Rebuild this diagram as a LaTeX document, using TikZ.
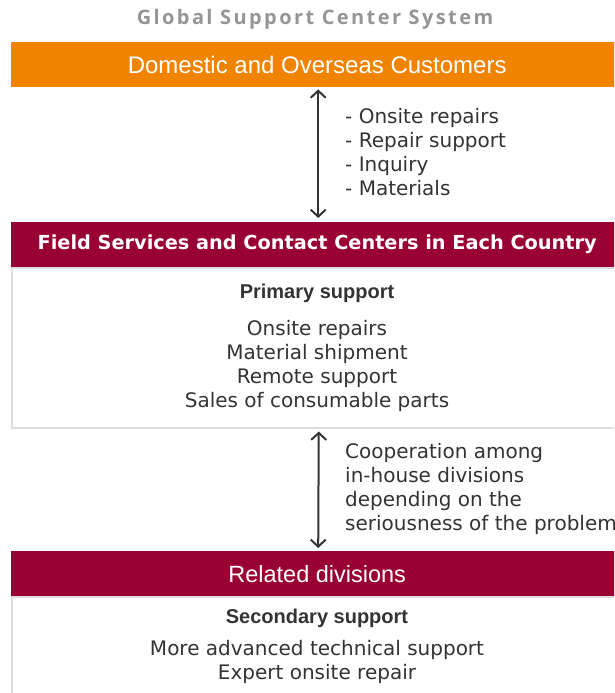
\documentclass[tikz,border=0pt]{standalone}
\usepackage{fontspec}
\setmainfont{DejaVu Sans}
\newfontfamily\arialfont{Liberation Sans}
\newfontfamily\titlefont[LetterSpace=12]{Open Sans}
\usetikzlibrary{arrows.meta,positioning}
\definecolor{custorange}{HTML}{F08300}
\definecolor{divred}{HTML}{990033}
\definecolor{panelgray}{HTML}{DDDDDD}
\definecolor{textgray}{HTML}{333333}
\definecolor{titlegray}{HTML}{959595}

\begin{document}
\begin{tikzpicture}[
  x=1pt, y=-1pt,
  header/.style={
    rectangle,
    anchor=north west,
    minimum width=612pt,
    minimum height=45pt,
    inner sep=0pt,
    text=white
  },
  panel/.style={
    rectangle,
    anchor=north west,
    draw=panelgray,
    line width=1.5pt,
    minimum width=612pt,
    inner sep=0pt
  },
  body/.style={align=center, text=textgray, font=\fontsize{20}{24}\selectfont},
  note/.style={align=left, anchor=west, inner sep=0pt, text=textgray, font=\fontsize{20}{24}\selectfont},
  heading/.style={text=textgray, font=\arialfont\bfseries\fontsize{20}{24}\selectfont},
  biarrow/.style={{Straight Barb[length=7pt,width=15pt]}-{Straight Barb[length=7pt,width=15pt]}, line width=2pt, draw=textgray}
]
\useasboundingbox (0,0) rectangle (614,693);
\clip (0,0) rectangle (614,693);

\node[text=titlegray, font=\titlefont\bfseries\fontsize{20}{24}\selectfont] (title) at (315,19) {Global Support Center System};

% customers
\node[header, fill=custorange, font=\arialfont\fontsize{24}{28}\selectfont] (cust) at (11,42) {Domestic and Overseas Customers};

% primary support
\node[panel, minimum height=160pt] (fieldbody) at (11,267) {};
\node[header, fill=divred, font=\bfseries\fontsize{19.3}{23}\selectfont] (field) at (11,222) {\raisebox{-1pt}{Field Services and Contact Centers in Each Country}};
\node[heading] (primary) at (317,293) {Primary support};
\node[body] (primaryitems) at (317,366) {Onsite repairs\\Material shipment\\Remote support\\Sales of consumable parts};

% secondary support
\node[panel, minimum height=130pt] (divbody) at (11,596) {};
\node[header, fill=divred, font=\arialfont\fontsize{23.5}{26}\selectfont] (div) at (11,551) {Related divisions};
\node[heading] (secondary) at (317,618) {Secondary support};
\node[body] (secondaryitems) at (317,662) {More advanced technical support\\Expert onsite repair};

% connectors
\draw[biarrow] ([xshift=1pt, yshift=-2pt]cust.south) -- ([xshift=1pt, yshift=4pt]field.north);
\node[note] (custnote) at (345,152) {- Onsite repairs\\- Repair support\\- Inquiry\\- Materials};

\draw[biarrow] ([xshift=1pt, yshift=-3pt]fieldbody.south) -- ([xshift=1pt, yshift=3pt]div.north);
\node[note] (divnote) at (345,489) {Cooperation among\\in-house divisions\\depending on the\\seriousness of the problem};

\end{tikzpicture}
\end{document}
